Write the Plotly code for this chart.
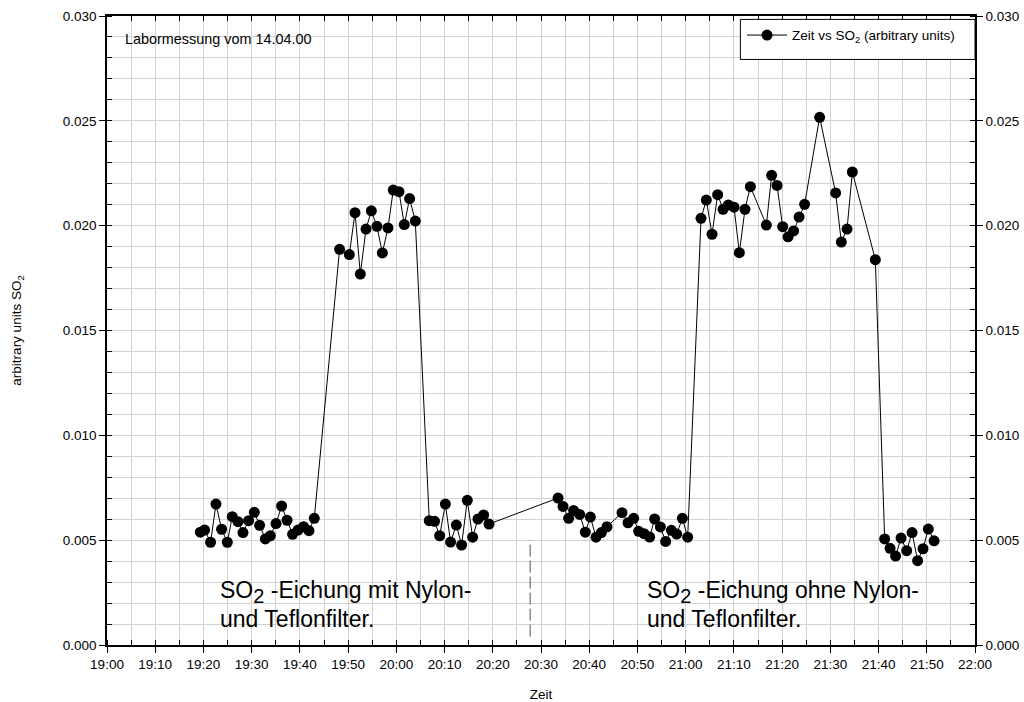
import plotly.graph_objects as go

# Labormessung 14.04.2000 - SO2-Kalibrierung mit und ohne Nylon-/Teflonfilter
DATUM = "2000-04-14"

zeit = [
    # Grundlinie vor der ersten Eichung
    "19:19:21", "19:20:14", "19:21:29", "19:22:36", "19:23:46", "19:24:57",
    "19:25:59", "19:27:10", "19:28:12", "19:29:22", "19:30:33", "19:31:39",
    "19:32:50", "19:33:52", "19:35:03", "19:36:13", "19:37:20", "19:38:29",
    "19:39:37", "19:40:46", "19:41:53", "19:42:59",
    # Eichung mit Nylon- und Teflonfilter
    "19:48:14", "19:50:15", "19:51:26", "19:52:32", "19:53:43", "19:54:49",
    "19:55:59", "19:57:06", "19:58:16", "19:59:22", "20:00:33", "20:01:39",
    "20:02:45", "20:03:56",
    # Grundlinie
    "20:06:50", "20:07:56", "20:08:59", "20:10:10", "20:11:15", "20:12:26",
    "20:13:32", "20:14:43", "20:15:49", "20:16:56", "20:18:06", "20:19:13",
    "20:33:32", "20:34:34", "20:35:44", "20:36:46", "20:38:01", "20:39:11",
    "20:40:14", "20:41:25", "20:42:31", "20:43:41", "20:46:48", "20:48:03",
    "20:49:13", "20:50:15", "20:51:22", "20:52:32", "20:53:34", "20:54:45",
    "20:55:51", "20:57:02", "20:58:08", "20:59:19", "21:00:25",
    # Eichung ohne Filter
    "21:03:11", "21:04:17", "21:05:28", "21:06:38", "21:07:45", "21:08:51",
    "21:10:02", "21:11:08", "21:12:18", "21:13:25", "21:16:44", "21:17:50",
    "21:18:57", "21:20:07", "21:21:14", "21:22:23", "21:23:31", "21:24:40",
    "21:27:47", "21:31:06", "21:32:17", "21:33:28", "21:34:34", "21:39:20",
    # Grundlinie nach der Eichung
    "21:41:16", "21:42:23", "21:43:32", "21:44:40", "21:45:50", "21:46:57",
    "21:48:06", "21:49:13", "21:50:19", "21:51:31",
]

so2 = [
    0.00538, 0.00548, 0.00490, 0.00672, 0.00552, 0.00490,
    0.00612, 0.00588, 0.00536, 0.00593, 0.00633, 0.00571,
    0.00506, 0.00521, 0.00579, 0.00663, 0.00595, 0.00528,
    0.00548, 0.00564, 0.00545, 0.00604,
    0.01887, 0.01862, 0.02062, 0.01769, 0.01984, 0.02071,
    0.01997, 0.01870, 0.01989, 0.02170, 0.02162, 0.02005,
    0.02129, 0.02022,
    0.00593, 0.00590, 0.00521, 0.00672, 0.00491, 0.00572,
    0.00477, 0.00690, 0.00514, 0.00601, 0.00620, 0.00577,
    0.00701, 0.00661, 0.00604, 0.00641, 0.00623, 0.00538,
    0.00610, 0.00514, 0.00536, 0.00564, 0.00631, 0.00583,
    0.00604, 0.00542, 0.00531, 0.00515, 0.00601, 0.00563,
    0.00494, 0.00547, 0.00529, 0.00604, 0.00514,
    0.02035, 0.02122, 0.01959, 0.02148, 0.02078, 0.02099,
    0.02088, 0.01871, 0.02078, 0.02186, 0.02003, 0.02240,
    0.02192, 0.01995, 0.01947, 0.01975, 0.02041, 0.02102,
    0.02517, 0.02156, 0.01922, 0.01984, 0.02256, 0.01838,
    0.00506, 0.00461, 0.00424, 0.00510, 0.00450, 0.00536,
    0.00402, 0.00459, 0.00553, 0.00497,
]

y_ticks = [0.000, 0.005, 0.010, 0.015, 0.020, 0.025, 0.030]

x = [f"{DATUM} {t}" for t in zeit]
x_range = [f"{DATUM} 19:00:00", f"{DATUM} 22:00:00"]
y_range = [0.0, 0.030]

FONT = "Liberation Sans, Arial, sans-serif"
GRID = "#d2d2d2"
MIN5 = 5 * 60 * 1000
MIN10 = 10 * 60 * 1000

fig = go.Figure()

fig.add_trace(go.Scatter(
    x=x, y=so2,
    mode="lines+markers",
    name="Zeit vs SO<sub>2</sub> (arbitrary units)",
    line=dict(color="black", width=1),
    marker=dict(color="black", size=11),
))

# invisible copy that carries the top and right frame axes
fig.add_trace(go.Scatter(
    x=x, y=so2, xaxis="x2", yaxis="y2",
    mode="markers", marker=dict(opacity=0),
    showlegend=False, hoverinfo="skip",
))

tickfont = dict(family=FONT, size=13.5, color="black")

fig.update_layout(
    width=1024, height=702,
    paper_bgcolor="white", plot_bgcolor="white",
    margin=dict(l=107, r=49, t=16, b=57),
    font=dict(family=FONT, size=13.5, color="black"),
    showlegend=True,
    legend=dict(
        x=0.7316, xanchor="left", y=0.994, yanchor="top",
        bgcolor="rgba(0,0,0,0)", borderwidth=0,
        font=dict(family=FONT, size=13.5),
        itemwidth=40, tracegroupgap=0,
    ),
    xaxis=dict(
        type="date", range=x_range, dtick=MIN10, tickformat="%H:%M",
        automargin=False,
        ticks="outside", ticklen=6, tickwidth=1, tickcolor="black",
        showline=True, linecolor="black", linewidth=1.5,
        showgrid=True, gridcolor=GRID, gridwidth=1, zeroline=False,
        minor=dict(dtick=MIN5, ticks="inside", ticklen=5, tickcolor="black",
                   showgrid=True, gridcolor=GRID, gridwidth=1),
        tickfont=tickfont,
        title=dict(text="Zeit", font=dict(family=FONT, size=13.5), standoff=19),
    ),
    xaxis2=dict(
        type="date", range=x_range, overlaying="x", side="top",
        automargin=False,
        dtick=MIN5, ticks="inside", ticklen=5, tickcolor="black",
        showticklabels=False, showgrid=False, zeroline=False,
        showline=True, linecolor="black", linewidth=1.5,
    ),
    yaxis=dict(
        range=y_range, tickvals=y_ticks, tickformat=".3f",
        automargin=False,
        ticks="outside", ticklen=6, tickwidth=1, tickcolor="black",
        showline=True, linecolor="black", linewidth=1.5,
        showgrid=True, gridcolor=GRID, gridwidth=1, zeroline=False,
        minor=dict(dtick=0.001, ticks="inside", ticklen=5, tickcolor="black",
                   showgrid=True, gridcolor=GRID, gridwidth=1),
        tickfont=tickfont,
        title=dict(text="arbitrary units SO<sub>2</sub>",
                   font=dict(family=FONT, size=13.5), standoff=38),
    ),
    yaxis2=dict(
        range=y_range, tickvals=y_ticks, tickformat=".3f",
        overlaying="y", side="right", automargin=False,
        ticks="outside", ticklen=6, tickwidth=1, tickcolor="black",
        showline=True, linecolor="black", linewidth=1.5,
        showgrid=False, zeroline=False,
        minor=dict(dtick=0.001, ticks="inside", ticklen=5, tickcolor="black"),
        tickfont=tickfont,
    ),
)

# framed white box behind the legend entry
fig.add_shape(
    type="rect", xref="paper", yref="paper", layer="above",
    x0=0.7297, x1=1.0, y0=0.9309, y1=0.9946,
    fillcolor="white", line=dict(color="black", width=1),
)

fig.add_annotation(
    x=f"{DATUM} 19:03:25", y=0.0289, xref="x", yref="y",
    text="Labormessung vom 14.04.00", showarrow=False,
    xanchor="left", yanchor="middle",
    font=dict(family=FONT, size=14.4, color="black"),
)

# two-line captions under each calibration run (tight line spacing)
BIG = dict(family=FONT, size=23, color="black")
for start, zeile1, zeile2 in [
    ("19:23:07", "SO<sub><span style='font-size:20px'>2</span></sub> -Eichung mit Nylon-",
     "und Teflonfilter."),
    ("20:51:28", "SO<sub><span style='font-size:20px'>2</span></sub> -Eichung ohne Nylon-",
     "und Teflonfilter."),
]:
    fig.add_annotation(
        x=f"{DATUM} {start}", y=0.00253, xref="x", yref="y",
        text=zeile1, showarrow=False, align="left", height=26,
        xanchor="left", yanchor="middle", font=BIG,
    )
    fig.add_annotation(
        x=f"{DATUM} {start}", y=0.00124, xref="x", yref="y",
        text=zeile2, showarrow=False, align="left", height=26,
        xanchor="left", yanchor="middle", font=BIG,
    )

# dashed separator between the two calibration runs
fig.add_shape(
    type="line", xref="x", yref="y",
    x0=f"{DATUM} 20:27:45", x1=f"{DATUM} 20:27:45",
    y0=0.0004, y1=0.0050,
    line=dict(color="#555555", width=1, dash="12px,4px"),
)

fig.write_html("out.html")
